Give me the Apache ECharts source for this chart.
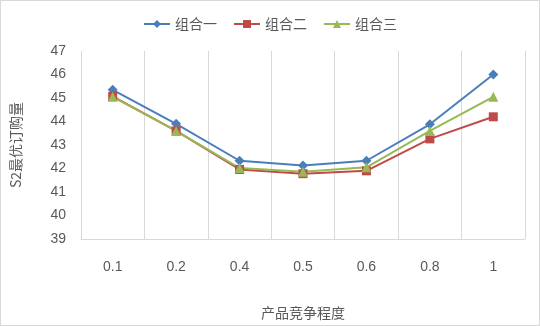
<!DOCTYPE html>
<html>
<head>
<meta charset="utf-8">
<script src="https://cdn.jsdelivr.net/npm/echarts@6/dist/echarts.min.js"></script>
<style>
  html, body { margin: 0; padding: 0; background: #fff; }
  #main { width: 538px; height: 324px; border: 1px solid #d9d9d9; }
</style>
</head>
<body>
<div id="main"></div>
<script>
// 数据
var categories = ['0.1', '0.2', '0.4', '0.5', '0.6', '0.8', '1'];
var zuhe1 = [45.35, 43.9, 42.33, 42.13, 42.33, 43.88, 46.0];
var zuhe2 = [45.07, 43.6, 41.96, 41.78, 41.9, 43.26, 44.2];
var zuhe3 = [45.05, 43.6, 42.02, 41.86, 42.05, 43.6, 45.05];

var myChart = echarts.init(document.getElementById('main'));
var textColor = '#595959';
var option = {
  animation: false,
  color: ['#4a7ebb', '#be4b48', '#98b954'],
  legend: {
    top: 11,
    left: 'center',
    itemGap: 16,
    itemWidth: 26,
    itemHeight: 10,
    textStyle: { color: textColor, fontSize: 14, fontFamily: 'Noto Sans CJK SC' },
    data: ['组合一', '组合二', '组合三']
  },
  grid: { left: 76, right: 14, top: 50, bottom: 80 },
  xAxis: {
    type: 'category',
    data: categories,
    name: '产品竞争程度',
    nameLocation: 'middle',
    nameGap: 67,
    nameTextStyle: { color: textColor, fontSize: 14, fontFamily: 'Noto Sans CJK SC' },
    axisLine: { lineStyle: { color: '#d9d9d9' } },
    axisTick: { show: false },
    axisLabel: { color: textColor, fontSize: 14, margin: 21, fontFamily: 'Liberation Sans' },
    splitLine: { show: true, lineStyle: { color: '#d9d9d9' } }
  },
  yAxis: {
    type: 'value',
    min: 39,
    max: 47,
    interval: 1,
    name: 'S2最优订购量',
    nameLocation: 'middle',
    nameGap: 58,
    nameTextStyle: { color: textColor, fontSize: 14, fontFamily: 'Noto Sans CJK SC' },
    axisLine: { show: false },
    axisTick: { show: false },
    axisLabel: { color: textColor, fontSize: 14, margin: 15, fontFamily: 'Liberation Sans' },
    splitLine: { show: false }
  },
  series: [
    {
      name: '组合一', type: 'line', data: zuhe1,
      symbol: 'diamond', symbolSize: 10,
      lineStyle: { width: 2 }
    },
    {
      name: '组合二', type: 'line', data: zuhe2,
      symbol: 'rect', symbolSize: 9,
      lineStyle: { width: 2 }
    },
    {
      name: '组合三', type: 'line', data: zuhe3,
      symbol: 'triangle', symbolSize: 10,
      lineStyle: { width: 2 }
    }
  ]
};
myChart.setOption(option, true);
window.addEventListener('resize', function () {
  myChart.resize();
});
</script>
</body>
</html>
